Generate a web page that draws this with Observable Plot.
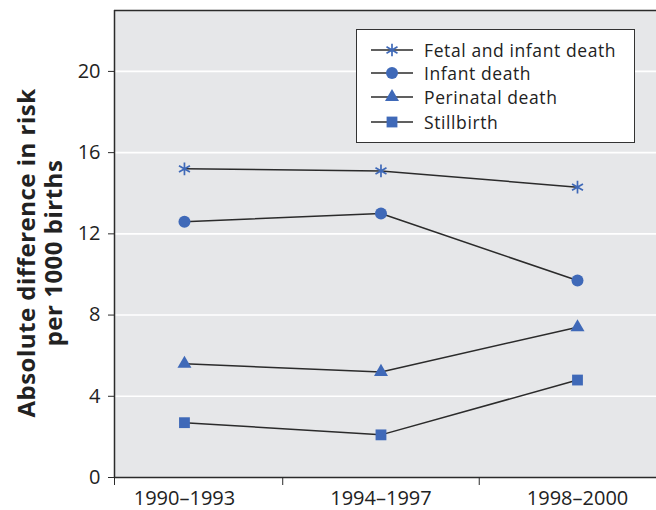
<!DOCTYPE html>
<html><head><meta charset="utf-8">
<script src="https://cdn.jsdelivr.net/npm/d3@7"></script>
<script src="https://cdn.jsdelivr.net/npm/@observablehq/plot@0.6"></script>
<style>
body{margin:0;background:#fff;}
#wrap{position:relative;width:656px;height:510px;font-family:"Open Sans",sans-serif;}
#legend{position:absolute;left:356px;top:29px;width:277px;height:112px;border:1.5px solid #333;background:#fff;}
.row{position:absolute;left:0;height:22px;display:flex;align-items:center;font-size:17.5px;letter-spacing:0.6px;line-height:22px;color:#222;white-space:nowrap;}
.row svg{display:block;margin-right:11px;}
</style></head><body><div id="wrap"></div>
<script>
const periods = ["1990–1993", "1994–1997", "1998–2000"];
const seriesNames = ["Fetal and infant death", "Infant death", "Perinatal death", "Stillbirth"];
const symbols = ["asterisk", "circle", "triangle", "square"];
const fetalInfant = [15.2, 15.1, 14.3];
const infant = [12.6, 13.0, 9.7];
const perinatal = [5.6, 5.2, 7.4];
const stillbirth = [2.7, 2.1, 4.8];
const yTicks = [0, 4, 8, 12, 16, 20];
const yLabel = ["Absolute difference in risk", "per 1000 births"];

const seriesValues = [fetalInfant, infant, perinatal, stillbirth];
const rows = [];
seriesNames.forEach((s, k) => seriesValues[k].forEach((v, i) => rows.push({series: s, i, period: periods[i], value: v})));

const blue = "#3f69b8";
const ink = "#2b2b2b";
const xmin = -0.356, xmax = 2.402;
const radii = [6, 6, 5.2, 6.1];

const chart = Plot.plot({
  width: 656, height: 510,
  marginLeft: 114, marginRight: 0, marginTop: 10, marginBottom: 33,
  style: {fontFamily: "'Open Sans', sans-serif", fontSize: "20px", color: "#222", background: "white", overflow: "visible"},
  x: {type: "linear", domain: [xmin, xmax], axis: null},
  y: {domain: [0, 23], axis: null},
  symbol: {domain: seriesNames, range: symbols},
  marks: [
    Plot.frame({fill: "#e6e7e9", stroke: "none"}),
    Plot.gridY(yTicks.filter(d => d > 0), {stroke: "#fff", strokeOpacity: 1, strokeWidth: 1.6}),
    Plot.ruleY([23], {stroke: ink, strokeWidth: 1.5}),
    Plot.ruleX([xmin], {stroke: ink, strokeWidth: 1.5}),
    Plot.axisY(yTicks, {tickSize: 6, tickPadding: 8, label: null, stroke: ink, fill: "#222", fontSize: 20}),
    Plot.ruleY([0], {stroke: ink, strokeWidth: 1.5}),
    Plot.axisX([xmin, 0.5, 1.5], {tickSize: 8, tickFormat: () => "", label: null, stroke: ink}),
    Plot.axisX([0, 1, 2], {tickSize: 0, tickPadding: 13, tickFormat: i => periods[i], label: null, fill: "#222", fontSize: 20}),
    Plot.line(rows, {x: "i", y: "value", z: "series", stroke: ink, strokeWidth: 1.5}),
    Plot.dot(rows.filter(d => d.series === seriesNames[0]), {x: "i", y: "value", symbol: "asterisk", r: radii[0], stroke: blue, strokeWidth: 1.7}),
    ...seriesNames.slice(1).map((s, j) =>
      Plot.dot(rows.filter(d => d.series === s), {x: "i", y: "value", symbol: "series", r: radii[j + 1], fill: blue, stroke: "none"}))
  ]
});

const wrap = document.getElementById("wrap");
wrap.appendChild(chart);

// y axis title (two lines, bold, rotated)
const svg = d3.select(chart);
const t = svg.append("text")
  .attr("transform", "translate(35,253) rotate(-90)")
  .attr("text-anchor", "middle")
  .attr("font-weight", "bold")
  .attr("font-size", "24px")
  .attr("letter-spacing", "0.5px")
  .attr("fill", "#222");
yLabel.forEach((s, k) => t.append("tspan").attr("x", 0).attr("dy", k === 0 ? "0" : "27px").text(s));

// legend
const legend = document.createElement("div");
legend.id = "legend";
wrap.appendChild(legend);
const rowTops = [9, 32, 56, 81];
seriesNames.forEach((s, k) => {
  const row = document.createElement("div");
  row.className = "row";
  row.style.top = rowTops[k] + "px";
  const icon = d3.create("svg").attr("width", 56).attr("height", 22);
  icon.append("line").attr("x1", 14).attr("x2", 56).attr("y1", 11).attr("y2", 11).attr("stroke", ink).attr("stroke-width", 1.5);
  const sym = [d3.symbolAsterisk, d3.symbolCircle, d3.symbolTriangle, d3.symbolSquare][k];
  const p = icon.append("path").attr("transform", "translate(35,11)").attr("d", d3.symbol(sym, Math.PI * radii[k] * radii[k])());
  if (k === 0) p.attr("fill", "none").attr("stroke", blue).attr("stroke-width", 1.7);
  else p.attr("fill", blue);
  row.appendChild(icon.node());
  const span = document.createElement("span");
  span.textContent = s;
  row.appendChild(span);
  legend.appendChild(row);
});
</script>
</body></html>
